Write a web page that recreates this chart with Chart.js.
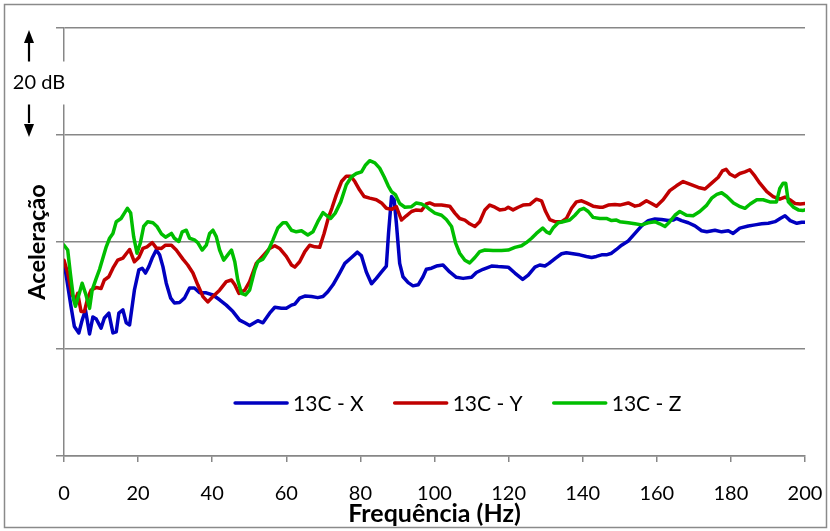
<!DOCTYPE html>
<html>
<head>
<meta charset="utf-8">
<title>Aceleração 13C</title>
<script src="https://cdn.jsdelivr.net/npm/chart.js@4.4.1/dist/chart.umd.min.js"></script>
<style>
  html, body { margin: 0; padding: 0; background: #fff; }
  #wrap { width: 830px; height: 531px; }
  canvas { display: block; }
</style>
</head>
<body>
<div id="wrap"><canvas id="chart" width="830" height="531"></canvas></div>
<script>
// Series labels
const seriesNames = ['13C - X', '13C - Y', '13C - Z'];

// X-axis ticks (Hz)
const freqTicks = [0, 20, 40, 60, 80, 100, 120, 140, 160, 180, 200];

// Acceleration level (dB) against frequency (Hz), direction X
const freqX = [0,1.9,2.8,4.0,4.9,5.8,6.9,7.8,8.7,10.0,
  10.9,12.1,13.2,14.1,14.8,15.9,16.8,17.7,19.0,20.2,
  21.1,22.0,22.9,23.8,24.9,25.8,26.7,27.6,28.8,29.8,
  31.2,32.5,33.9,35.2,36.6,38.4,40.2,42.0,43.8,45.6,
  47.4,48.8,50.1,52.3,53.7,55.5,56.9,58.7,60.0,61.4,
  62.3,63.6,65.0,66.8,68.5,69.9,71.2,72.6,74.4,75.8,
  77.6,79.2,80.3,81.6,83.0,84.3,85.7,87.0,87.6,88.4,
  89.1,89.7,90.6,91.5,92.9,94.2,95.6,96.9,97.8,99.2,
  100.5,102.3,104.1,105.9,107.7,110.0,111.3,113.1,115.4,117.2,
  119.9,121.7,123.8,125.3,127.1,128.4,129.8,130.9,132.7,134.3,
  135.6,137.4,139.2,141.0,142.4,143.7,145.1,146.4,147.8,149.1,
  150.5,152.3,154.1,155.9,157.7,159.5,161.3,163.1,164.4,165.3,
  166.7,168.5,170.3,172.1,173.5,175.7,177.5,179.3,180.6,182.4,
  184.7,186.5,188.3,190.1,191.9,193.3,194.6,196.0,197.8,199.1,
  200];
const accX = [36.3,27.9,24.2,23.0,25.4,27.3,22.8,26.0,25.6,23.9,
  25.8,26.7,23.0,23.2,26.7,27.3,24.9,24.5,31.0,34.8,
  35.1,34.2,35.4,37.0,38.5,37.6,35.4,32.3,29.5,28.6,
  28.7,29.5,31.4,31.4,30.5,30.5,30.1,29.2,28.2,27.0,
  25.4,24.9,24.4,25.3,24.9,26.7,27.8,27.6,27.6,28.2,
  28.4,29.5,29.9,29.8,29.6,29.8,30.7,32.0,34.2,36.0,
  37.1,38.1,37.4,34.4,32.2,33.2,34.4,35.5,41.7,48.5,
  47.9,43.6,36.0,33.5,32.4,31.8,32.0,33.5,34.9,35.1,
  35.5,35.7,34.4,33.4,33.2,33.4,34.3,34.9,35.5,35.4,
  35.3,34.2,33.0,33.8,35.3,35.7,35.5,36.0,37.0,37.8,
  38.0,37.8,37.6,37.3,37.1,37.3,37.6,37.6,37.9,38.6,
  39.4,40.2,41.6,43.0,44.0,44.3,44.2,44.0,44.1,44.4,
  44.0,43.6,43.0,42.1,41.9,42.2,41.9,42.1,41.6,42.6,
  43.0,43.2,43.4,43.5,43.8,44.4,44.9,44.0,43.5,43.7,
  43.7];

// Direction Y
const freqY = [0,1.0,2.2,3.1,3.7,4.6,5.5,6.4,7.3,8.7,
  10.0,10.9,12.1,13.2,14.5,15.9,16.8,17.7,19.0,20.2,
  21.3,22.4,23.8,24.9,26.3,27.4,29.0,30.3,32.1,33.4,
  34.8,36.1,37.5,38.8,40.2,42.0,43.8,45.2,46.1,47.2,
  48.8,50.1,51.9,53.7,55.5,56.9,58.2,60.0,61.4,62.3,
  63.6,65.0,66.3,67.7,69.0,70.2,71.3,72.3,73.5,74.9,
  76.2,77.4,78.5,79.8,81.0,82.5,84.3,85.7,87.0,88.4,
  89.7,91.1,92.4,93.8,95.1,96.5,97.8,98.7,100.1,101.9,
  104.1,105.5,106.8,108.2,109.5,110.9,112.2,113.6,114.9,116.3,
  117.6,119.0,119.9,121.2,122.6,123.9,125.7,127.5,128.9,130.0,
  131.1,132.5,134.3,135.6,137.0,138.3,139.7,141.0,142.8,144.6,
  145.5,146.9,148.7,150.0,152.3,154.1,155.4,157.2,158.6,159.9,
  161.7,163.5,165.3,167.1,168.9,171.2,173.0,174.8,176.6,177.7,
  178.7,179.7,181.1,182.4,183.8,185.1,186.5,187.8,189.7,191.4,
  193.2,194.6,195.9,197.3,198.7,200];
const accY = [36.6,34.2,30.1,29.2,30.4,27.0,27.0,29.5,31.0,31.5,
  31.3,32.9,33.5,35.1,36.6,37.0,37.8,38.6,36.3,37.1,
  38.8,39.1,39.9,38.9,38.8,39.4,39.4,38.5,36.8,35.7,
  34.2,32.0,29.8,28.8,29.8,31.0,32.6,32.9,32.0,30.4,
  31.0,32.6,36.0,37.4,38.8,39.3,38.8,37.3,35.7,35.3,
  36.3,38.2,39.4,39.1,39.0,41.6,44.4,46.3,48.8,51.3,
  52.3,52.3,51.3,49.7,48.5,48.2,47.9,47.3,46.3,46.1,
  46.6,44.1,44.9,45.7,46.0,45.9,47.1,47.3,46.9,46.9,
  46.7,45.4,44.4,44.1,43.4,42.9,43.8,46.0,46.9,46.5,
  46.0,46.1,46.5,46.0,46.5,46.9,47.0,48.0,47.7,45.7,
  44.2,43.8,43.8,44.4,46.3,47.5,47.7,47.3,46.7,46.5,
  46.5,46.9,47.0,46.9,47.3,46.7,46.9,47.7,47.2,46.7,
  47.9,49.6,50.5,51.3,50.8,50.2,49.9,51.0,52.1,53.3,
  53.6,52.7,52.2,52.8,53.1,53.5,52.3,51.0,49.4,48.5,
  48.0,48.4,47.9,47.2,47.1,47.2];

// Direction Z
const freqZ = [0,1.0,1.7,2.6,3.1,4.0,4.9,5.8,6.9,7.6,
  8.7,9.6,10.5,11.4,12.3,13.2,14.1,15.4,16.3,17.1,
  18.0,18.8,19.7,20.6,21.5,22.6,24.0,25.1,26.3,27.4,
  29.0,29.8,31.0,31.9,33.0,33.9,35.2,36.1,37.3,38.4,
  39.3,40.2,41.1,42.0,43.1,44.2,45.2,46.1,46.9,47.9,
  49.0,50.1,51.5,52.3,53.7,55.0,56.4,57.7,59.1,60.0,
  61.4,62.7,64.1,65.8,67.2,68.5,69.9,70.8,72.0,73.2,
  74.7,76.2,77.6,78.9,80.3,81.4,82.5,83.9,85.2,86.4,
  87.5,88.4,89.5,90.6,92.0,93.8,95.1,96.5,97.8,98.7,
  100.1,101.9,103.2,104.6,105.7,106.8,108.2,109.5,110.9,112.2,
  113.6,115.8,118.1,119.9,121.7,123.5,124.8,126.2,127.5,129.2,
  130.2,131.1,132.0,133.4,134.7,136.5,137.9,139.2,140.3,141.5,
  142.8,144.6,146.4,147.8,149.1,150.0,152.3,154.1,155.9,157.7,
  159.5,160.8,162.2,163.5,164.9,166.2,168.0,169.8,171.6,173.5,
  174.8,176.2,177.5,178.9,180.7,182.5,183.8,185.2,187.0,188.7,
  190.5,192.3,193.2,194.1,194.8,195.5,196.9,198.2,199.5,200];
const accZ = [39.4,38.5,34.2,29.2,28.0,30.1,32.3,30.4,27.6,31.0,
  33.2,34.9,37.0,39.1,40.7,41.6,43.8,44.4,45.4,46.3,
  45.4,41.0,37.9,39.8,42.9,43.8,43.6,42.9,41.5,40.9,
  41.6,40.7,40.1,41.9,42.2,40.7,40.4,39.9,38.5,39.4,
  41.6,42.2,41.0,38.5,36.6,37.6,38.5,36.3,32.9,30.4,
  30.1,31.0,34.8,36.3,36.8,38.2,40.4,42.6,43.6,43.6,
  42.2,41.9,42.1,41.3,41.9,43.8,45.5,45.0,44.4,45.4,
  47.5,50.7,52.2,52.8,53.1,54.4,55.2,54.8,53.8,52.2,
  50.5,49.4,48.8,47.2,46.5,46.6,47.3,47.1,46.6,46.1,
  45.4,45.0,44.2,42.9,39.8,37.9,36.6,36.1,37.1,38.2,
  38.5,38.4,38.4,38.5,39.0,39.3,39.9,40.7,41.6,42.6,
  41.9,41.6,42.6,43.6,43.8,44.1,45.0,46.0,46.3,45.7,
  44.6,44.4,44.4,44.0,44.1,43.8,43.6,43.4,43.2,43.6,
  43.8,43.4,42.9,43.8,45.0,45.7,45.0,44.9,45.7,46.9,
  48.2,48.9,49.2,48.5,47.3,46.6,46.3,47.1,47.9,47.9,
  47.5,47.5,50.0,51.0,51.0,47.5,46.5,46.0,45.9,46.0];

// Y-axis span in dB and the step marked by the arrows
const levelMin = 0, levelMax = 80, levelStep = 20;
const stepLabel = '20 dB';

const FONT = 'Lato, "Open Sans", "Liberation Sans", sans-serif';
const GRID = '#878787';
const COLORS = ['#0000C0', '#C00000', '#00BE00'];

const toPoints = (xs, ys) => xs.map((x, i) => ({ x, y: ys[i] }));

// Outer frame of the chart object
const frame = {
  id: 'frame',
  beforeDraw(chart) {
    const ctx = chart.ctx;
    ctx.save();
    ctx.fillStyle = '#fff';
    ctx.fillRect(0, 0, chart.width, chart.height);
    ctx.strokeStyle = '#8a8a8a';
    ctx.lineWidth = 1.5;
    ctx.strokeRect(4.5, 4.5, chart.width - 8, chart.height - 8);
    ctx.restore();
  }
};

// Scale marker: arrows spanning one grid step with its dB label
const stepMarker = {
  id: 'stepMarker',
  afterDraw(chart) {
    const { ctx, chartArea } = chart;
    const ys = chart.scales.y;
    const yTop = ys.getPixelForValue(levelMax);
    const yBot = ys.getPixelForValue(levelMax - levelStep);
    const mid = (yTop + yBot) / 2 + 1;
    const ax = 29;
    ctx.save();
    // clear the axis line behind the label
    ctx.fillStyle = '#fff';
    ctx.fillRect(chartArea.left - 4, mid - 21, 8, 43);
    ctx.fillStyle = '#000';
    ctx.strokeStyle = '#000';
    ctx.lineWidth = 2.2;
    // up arrow
    ctx.beginPath();
    ctx.moveTo(ax, mid - 21); ctx.lineTo(ax, yTop + 12); ctx.stroke();
    ctx.beginPath();
    ctx.moveTo(ax, yTop + 2); ctx.lineTo(ax - 5, yTop + 15); ctx.lineTo(ax + 5, yTop + 15); ctx.closePath(); ctx.fill();
    // down arrow
    ctx.beginPath();
    ctx.moveTo(ax, mid + 22); ctx.lineTo(ax, yBot - 12); ctx.stroke();
    ctx.beginPath();
    ctx.moveTo(ax, yBot + 2); ctx.lineTo(ax - 5, yBot - 11); ctx.lineTo(ax + 5, yBot - 11); ctx.closePath(); ctx.fill();
    // label
    ctx.font = '20px ' + FONT;
    ctx.textAlign = 'center';
    ctx.textBaseline = 'middle';
    ctx.fillText(stepLabel, 39, mid);
    ctx.restore();
  }
};

// Legend drawn inside the plot, near the bottom
const innerLegend = {
  id: 'innerLegend',
  afterDatasetsDraw(chart) {
    const { ctx, chartArea } = chart;
    ctx.save();
    ctx.font = '21px ' + FONT;
    ctx.textBaseline = 'middle';
    ctx.textAlign = 'left';
    const lineLen = 52, gap = 6, spacing = 31;
    const items = chart.data.datasets.map(d => ({
      label: d.label, color: d.borderColor,
      w: lineLen + gap + ctx.measureText(d.label).width
    }));
    const total = items.reduce((s, it) => s + it.w, 0) + spacing * (items.length - 1);
    const cx = chartArea.left + (chartArea.right - chartArea.left) * 0.532;
    const y = chartArea.top + (chartArea.bottom - chartArea.top) * 0.876;
    let x = cx - total / 2;
    items.forEach(it => {
      ctx.strokeStyle = it.color;
      ctx.lineWidth = 3.5;
      ctx.lineCap = 'round';
      ctx.beginPath();
      ctx.moveTo(x, y); ctx.lineTo(x + lineLen, y); ctx.stroke();
      ctx.fillStyle = '#000';
      ctx.fillText(it.label, x + lineLen + gap, y + 1);
      x += it.w + spacing;
    });
    ctx.restore();
  }
};

new Chart(document.getElementById('chart'), {
  type: 'line',
  data: {
    datasets: [
      { label: seriesNames[0], data: toPoints(freqX, accX), borderColor: COLORS[0], backgroundColor: COLORS[0], order: 2 },
      { label: seriesNames[1], data: toPoints(freqY, accY), borderColor: COLORS[1], backgroundColor: COLORS[1], order: 1 },
      { label: seriesNames[2], data: toPoints(freqZ, accZ), borderColor: COLORS[2], backgroundColor: COLORS[2], order: 0 }
    ]
  },
  options: {
    responsive: false,
    animation: false,
    devicePixelRatio: 1,
    layout: { padding: { left: 4, top: 28, right: 25, bottom: 4 } },
    elements: {
      point: { radius: 0 },
      line: { borderWidth: 3.5, tension: 0, fill: false, borderJoinStyle: 'round', borderCapStyle: 'round' }
    },
    plugins: { legend: { display: false }, tooltip: { enabled: false } },
    scales: {
      x: {
        type: 'linear',
        min: freqTicks[0],
        max: freqTicks[freqTicks.length - 1],
        afterFit(scale) { scale.height = 71; scale.paddingLeft = 0; scale.paddingRight = 0; },
        afterBuildTicks(scale) { scale.ticks = freqTicks.map(v => ({ value: v })); },
        ticks: { color: '#000', padding: 20, maxRotation: 0, autoSkip: false, font: { family: FONT, size: 20 } },
        grid: { display: true, drawOnChartArea: false, drawTicks: true, tickLength: 6, color: GRID, lineWidth: 1.5 },
        border: { display: true, color: GRID, width: 1.5 },
        title: { display: true, text: 'Frequência (Hz)', color: '#000', padding: { top: 0, bottom: -2 }, font: { family: FONT, size: 25, weight: 'bold' } }
      },
      y: {
        min: levelMin,
        max: levelMax,
        afterFit(scale) { scale.width = 60; },
        ticks: { stepSize: levelStep, display: false },
        grid: { color: GRID, lineWidth: 1.5, drawTicks: true, tickLength: 8 },
        border: { display: true, color: GRID, width: 1.5 },
        title: { display: true, text: 'Aceleração', color: '#000', padding: { top: 19, bottom: 0 }, font: { family: FONT, size: 23.5, weight: 'bold' } }
      }
    }
  },
  plugins: [frame, stepMarker, innerLegend]
});
</script>
</body>
</html>
